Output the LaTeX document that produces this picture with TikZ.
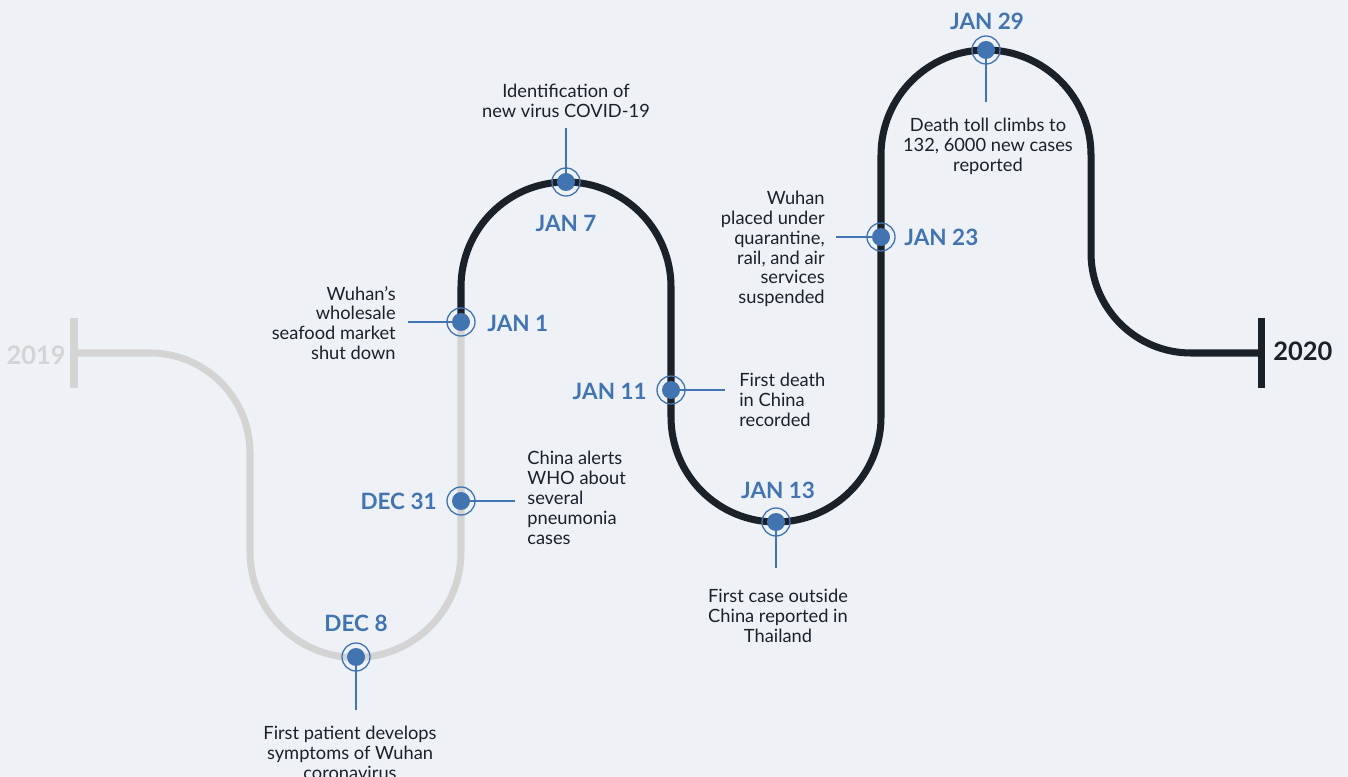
\documentclass[tikz,border=0pt]{standalone}
\usepackage{fontspec}
\setmainfont{Lato}
\usetikzlibrary{positioning}
\definecolor{bgcol}{HTML}{EEF2F7}
\definecolor{tblue}{HTML}{4174B1}
\definecolor{ink}{HTML}{1B2129}
\definecolor{pale}{HTML}{D4D4D4}
\tikzset{
  evt/.style={circle,fill=tblue,inner sep=0pt,minimum size=0.36cm},
  ring/.style={draw=tblue,line width=0.75pt},
  lead/.style={draw=tblue,line width=0.8pt},
  datelbl/.style={font=\bfseries\fontsize{12.8}{14}\selectfont,text=tblue,inner sep=0pt},
  note/.style={font=\fontsize{10.4}{11.3}\selectfont,text=ink,inner sep=0pt},
  yearlbl/.style={font=\bfseries\fontsize{14.5}{16}\selectfont,inner sep=0pt},
  track/.style={line width=4pt}
}
\begin{document}
\begin{tikzpicture}[x=0.02cm,y=0.02cm]
      \fill[bgcol] (0,0) rectangle (1348,777);
      \useasboundingbox (0,0) rectangle (1348,777);
      % the road
      \draw[track,pale] (74,459) -- (74,389);
      \draw[track,pale] (74,424) -- (150,424) arc (90:0:100) -- (250,225)
        arc (180:360:105.5) -- (461,455);
      \draw[track,ink] (461,455) -- (461,490) arc (180:0:105) -- (671,360)
        arc (180:360:105) -- (881,622) arc (180:0:105) -- (1091,524)
        arc (180:270:100) -- (1261,424);
      \draw[track,ink] (1261,459) -- (1261,389);
      \node[yearlbl,text=pale,anchor=east] (y19) at (66,422) {2019};
      \node[yearlbl,text=ink,anchor=west] (y20) at (1273,426) {2020};
      % events
      \node[evt] (d8) at (356,120) {};
      \node[evt] (d31) at (461,276) {};
      \node[evt] (j1) at (461,455) {};
      \node[evt] (j7) at (566,595) {};
      \node[evt] (j11) at (671,387) {};
      \node[evt] (j13) at (776,255) {};
      \node[evt] (j23) at (881,540) {};
      \node[evt] (j29) at (986,727) {};
      \foreach \e in {d8,d31,j1,j7,j11,j13,j23,j29}
        \draw[ring] (\e) circle (14);
      % leads
      \coordinate (d8e) at (356,67);
      \coordinate (d31e) at (515,276);
      \coordinate (j1e) at (408,455);
      \coordinate (j7e) at (566,649);
      \coordinate (j11e) at (725,387);
      \coordinate (j13e) at (776,209);
      \coordinate (j23e) at (836,540);
      \coordinate (j29e) at (986,675);
      \begin{scope}[lead]
        \draw (d8) -- (d8e);
        \draw (d31) -- (d31e);
        \draw (j1) -- (j1e);
        \draw (j7) -- (j7e);
        \draw (j11) -- (j11e);
        \draw (j13) -- (j13e);
        \draw (j23) -- (j23e);
        \draw (j29) -- (j29e);
      \end{scope}
      % dates
      \node[datelbl] (d8l) at (356,154) {DEC 8};
      \node[datelbl,anchor=east] (d31l) at (437,276) {DEC 31};
      \node[datelbl,anchor=west] (j1l) at (487,454) {JAN 1};
      \node[datelbl] (j7l) at (566,554) {JAN 7};
      \node[datelbl,anchor=east] (j11l) at (647,386) {JAN 11};
      \node[datelbl] (j13l) at (778,287) {JAN 13};
      \node[datelbl,anchor=west] (j23l) at (904,540) {JAN 23};
      \node[datelbl] (j29l) at (987,756) {JAN 29};
      % notes
      \node[note,anchor=north,align=center] (d8n) at (350,51)
        {First patient develops\\symptoms of Wuhan\\coronavirus};
      \node[note,anchor=west,align=left] (d31n) at (527,279)
        {China alerts\\WHO about\\several\\pneumonia\\cases};
      \node[note,anchor=east,align=right] (j1n) at (396,454)
        {Wuhan’s\\wholesale\\seafood market\\shut down};
      \node[note,anchor=south,align=center] (j7n) at (566,659)
        {Identification of\\new virus COVID-19};
      \node[note,anchor=west,align=left] (j11n) at (739,377)
        {First death\\in China\\recorded};
      \node[note,anchor=north,align=center] (j13n) at (778,188)
        {First case outside\\China reported in\\Thailand};
      \node[note,anchor=east,align=right] (j23n) at (825,528)
        {Wuhan\\placed under\\quarantine,\\rail, and air\\services\\suspended};
      \node[note,anchor=north,align=center] (j29n) at (988,659)
        {Death toll climbs to\\132, 6000 new cases\\reported};
    \end{tikzpicture}
\end{document}
